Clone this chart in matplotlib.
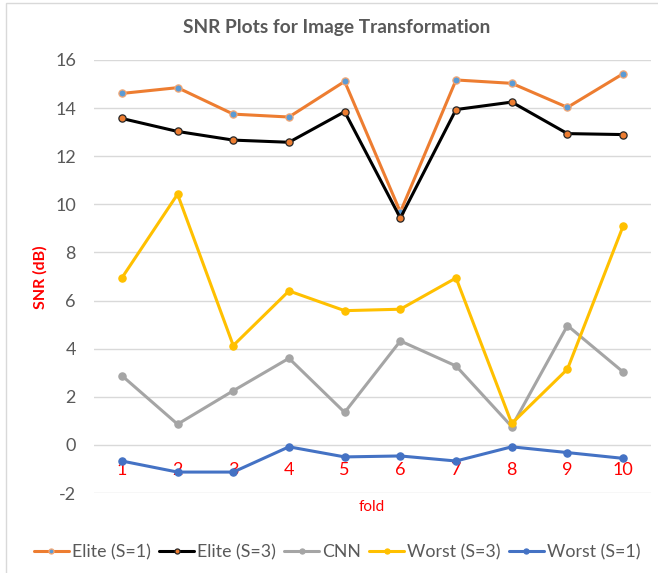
import matplotlib
matplotlib.use("Agg")
import matplotlib.pyplot as plt
from matplotlib.patches import Rectangle

plt.rcParams['font.family'] = ['Lato', 'DejaVu Sans']
plt.rcParams['axes.unicode_minus'] = False

# values
folds = [1, 2, 3, 4, 5, 6, 7, 8, 9, 10]
elite_s1 = [14.61, 14.85, 13.75, 13.63, 15.11, 9.68, 15.17, 15.03, 14.03, 15.43]
elite_s3 = [13.57, 13.03, 12.67, 12.58, 13.85, 9.43, 13.94, 14.25, 12.94, 12.90]
cnn = [2.88, 0.86, 2.25, 3.60, 1.35, 4.32, 3.28, 0.76, 4.96, 3.03]
worst_s3 = [6.94, 10.42, 4.13, 6.40, 5.58, 5.64, 6.94, 0.89, 3.15, 9.10]
worst_s1 = [-0.67, -1.13, -1.13, -0.08, -0.50, -0.46, -0.67, -0.08, -0.32, -0.56]

series = [
    ("Elite (S=1)", elite_s1, '#ED7D31', '#5B9BD5', '#F4A774'),
    ("Elite (S=3)", elite_s3, '#000000', '#ED7D31', '#262626'),
    ("CNN", cnn, '#A5A5A5', '#A5A5A5', '#A5A5A5'),
    ("Worst (S=3)", worst_s3, '#FFC000', '#FFC000', '#FFC000'),
    ("Worst (S=1)", worst_s1, '#4472C4', '#4472C4', '#4472C4'),
]

W, H = 658, 573
fig = plt.figure(figsize=(W / 100, H / 100), dpi=100)
ax = fig.add_axes([94 / W, 1 - 493 / H, (651 - 94) / W, (493 - 60) / H])

for name, vals, col, mfc, mec in series:
    ax.plot(folds, vals, '-o', color=col, lw=2.2, ms=5.2, mfc=mfc, mec=mec,
            mew=0.9, label=name, solid_capstyle='round')

ax.set_xlim(0.5, 10.5)
ax.set_ylim(-2, 16)
ax.set_yticks(range(-2, 17, 2))
ax.set_xticks(folds)
ax.set_xticklabels([str(f) for f in folds])
ax.grid(axis='y', color='#D9D9D9', lw=1)
ax.set_axisbelow(True)
for s in ax.spines.values():
    s.set_visible(False)
ax.spines['bottom'].set_position(('data', 0))
ax.tick_params(axis='y', length=0, pad=13, labelsize=13, labelcolor='#595959')
ax.tick_params(axis='x', length=0, pad=12, labelsize=13, labelcolor='#FF0000')

fig.text(337 / W, 1 - 27 / H, "SNR Plots for Image Transformation", ha='center',
         va='center', fontsize=13.8, fontweight='bold', color='#595959')
fig.text(40 / W, 1 - 277 / H, "SNR (dB)", rotation=90, ha='center', va='center',
         fontsize=11.5, fontweight='bold', color='#FF0000')
fig.text(372 / W, 1 - 507 / H, "fold", ha='center', va='center',
         fontsize=11, color='#FF0000')

fig.legend(loc='center', bbox_to_anchor=(337 / W, 1 - 552 / H), ncol=5,
           frameon=False, handlelength=2.0, handletextpad=0.15,
           columnspacing=0.45, fontsize=12.8, labelcolor='#595959',
           markerscale=0.7, borderaxespad=0)

fig.patches.append(Rectangle((6 / W, -0.1), 1.2, 1.1 - 3 / H, transform=fig.transFigure,
                             fill=False, edgecolor='#D9D9D9', lw=1))

fig.savefig('out.png', dpi=100)
